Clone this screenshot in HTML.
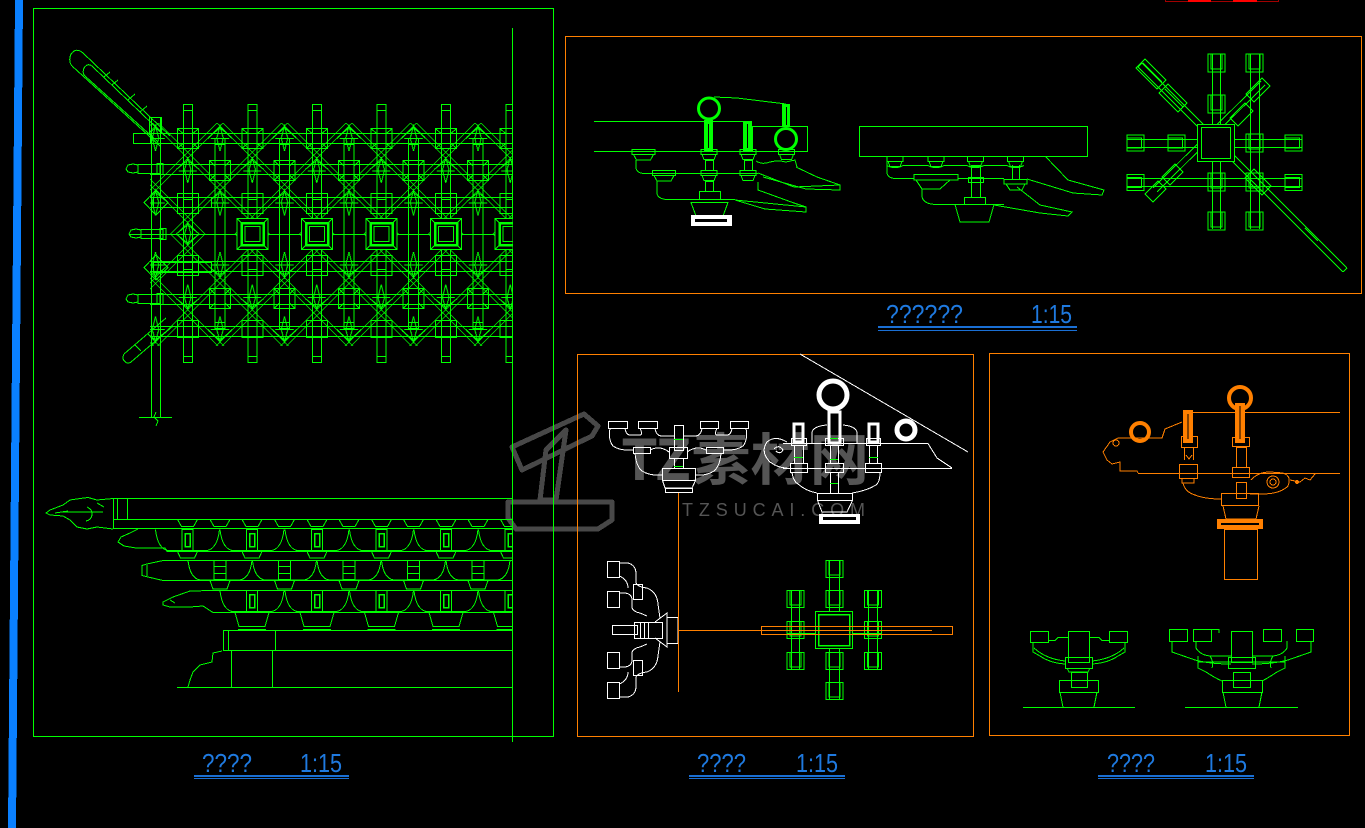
<!DOCTYPE html>
<html><head><meta charset="utf-8"><style>
html,body{margin:0;padding:0;background:#000;overflow:hidden}
svg{display:block}
</style></head><body>
<svg width="1365" height="828" viewBox="0 0 1365 828" xmlns="http://www.w3.org/2000/svg" shape-rendering="crispEdges">
<rect width="1365" height="828" fill="#000"/>
<defs>
 <pattern id="latA" patternUnits="userSpaceOnUse" width="64.5" height="64.5" x="316.75" y="123">
  <g stroke="#00ff00" stroke-width="1" fill="none">
   <path d="M0 29.25 L29.25 0 M0 35.25 L35.25 0 M29.25 64.5 L64.5 29.25 M35.25 64.5 L64.5 35.25 M35.25 0 L64.5 29.25 M29.25 0 L64.5 35.25 M0 29.25 L35.25 64.5 M0 35.25 L29.25 64.5"/>
   <path d="M32.25 3 L35.5 15 L32.25 28 L29 15 Z M0 35 L3.25 47 L0 60 L-3.25 47 Z M64.5 35 L67.75 47 L64.5 60 L61.25 47 Z"/>
   <path d="M21 14 L32.25 5 L43.5 14 M23 15.5 H41.5 M-11.25 46.25 L0 37.25 L11.25 46.25 M53.25 46.25 L64.5 37.25 L75.75 46.25 M-9 47.75 H9 M55.5 47.75 H73.5"/>
  </g>
 </pattern>
 <pattern id="latB" patternUnits="userSpaceOnUse" width="64.5" height="64.5" x="316.75" y="216">
  <g stroke="#00ff00" stroke-width="1" fill="none">
   <path d="M0 29.25 L29.25 0 M0 35.25 L35.25 0 M29.25 64.5 L64.5 29.25 M35.25 64.5 L64.5 35.25 M35.25 0 L64.5 29.25 M29.25 0 L64.5 35.25 M0 29.25 L35.25 64.5 M0 35.25 L29.25 64.5"/>
   <path d="M32.25 36 L35.5 49 L32.25 61 L29 49 Z M0 4 L3.25 17 L0 29 L-3.25 17 Z M64.5 4 L67.75 17 L64.5 29 L61.25 17 Z"/>
   <path d="M21 50.5 L32.25 59.5 L43.5 50.5 M23 49 H41.5 M-11.25 18.25 L0 27.25 L11.25 18.25 M53.25 18.25 L64.5 27.25 L75.75 18.25 M-9 16.75 H9 M55.5 16.75 H73.5"/>
  </g>
 </pattern>
 <clipPath id="clipL"><rect x="0" y="0" width="512.5" height="828"/></clipPath>

 <g id="mc" stroke="#00ff00" fill="none">
  <rect x="-4.5" y="104.5" width="9" height="258"/>
  <path d="M-4.5 110.5 H4.5 M-4.5 356.5 H4.5"/>
  <rect x="-10.5" y="128.5" width="21" height="20"/>
  <path d="M-10.5 128.5 L-4.5 134 M10.5 128.5 L4.5 134 M-10.5 148.5 L-4.5 143 M10.5 148.5 L4.5 143"/>
  <rect x="-10.5" y="193.5" width="21" height="20"/>
  <path d="M-4.5 199.5 H4.5 M-4.5 207.5 H4.5"/>
  <rect x="-10.5" y="255.5" width="21" height="20"/>
  <path d="M-4.5 261.5 H4.5 M-4.5 269.5 H4.5"/>
  <rect x="-10.5" y="320.5" width="21" height="17"/>
 </g>
 <g id="sq" stroke="#00ff00" fill="none">
  <rect x="-15.5" y="218.5" width="31" height="31" fill="#000"/>
  <rect x="-11" y="223" width="22" height="22" stroke-width="2.5"/>
  <rect x="-7.5" y="226.5" width="15" height="15"/>
  <path d="M-15.5 218.5 L-11 223 M15.5 218.5 L11 223 M-15.5 249.5 L-11 245 M15.5 249.5 L11 245"/>
 </g>
 <g id="ic" stroke="#00ff00" fill="none">
  <rect x="-5" y="138.5" width="10" height="190"/>
  <path d="M-5 144.5 H5 M-5 322.5 H5"/>
  <rect x="-10.5" y="160.5" width="21" height="20"/>
  <path d="M-10.5 160.5 L-5 166 M10.5 160.5 L5 166 M-10.5 180.5 L-5 175 M10.5 180.5 L5 175"/>
  <rect x="-10.5" y="288.5" width="21" height="20"/>
  <path d="M-10.5 288.5 L-5 294 M10.5 288.5 L5 294 M-10.5 308.5 L-5 303 M10.5 308.5 L5 303"/>
  <path d="M-12 138.5 L0 127 L12 138.5 M-12 329.5 L0 341 L12 329.5"/>
 </g>

 <g id="cupT" stroke="#00ff00" fill="none"><path d="M-10 519.5 H10 L6 526.5 H-6 Z"/></g>
 <g id="eA" stroke="#00ff00" fill="none">
  <rect x="-5.5" y="529.5" width="11" height="21"/>
  <rect x="-2.5" y="533.5" width="5" height="13" stroke-width="1.5"/>
  <path d="M-32 529.5 Q-30 548 -20 550.5 H-5.5 M5.5 550.5 H20 Q30 548 32 529.5"/>
  <path d="M-10 551.5 H10 L7 558 H-7 Z"/>
 </g>
 <g id="eB" stroke="#00ff00" fill="none">
  <rect x="-6" y="560.5" width="12" height="19"/>
  <path d="M-6 566.5 H6 M-6 573.5 H6"/>
  <path d="M-32 560.5 Q-30 578 -20 580 H-6 M6 580 H20 Q30 578 32 560.5"/>
  <path d="M-10 580.5 H10 L7 589 H-7 Z"/>
 </g>
 <g id="eC" stroke="#00ff00" fill="none">
  <rect x="-5.5" y="590.5" width="11" height="21"/>
  <rect x="-2.5" y="594.5" width="5" height="13" stroke-width="1.5"/>
  <path d="M-32 590.5 Q-30 609 -20 611.5 H-5.5 M5.5 611.5 H20 Q30 609 32 590.5"/>
  <path d="M-17 612.5 H17 L13 626.5 H-13 Z M-14 629.5 H14"/>
 </g>

 <g id="cupS" stroke="#00ff00" fill="none"><path d="M-8 0.5 H8 V5.5 H-8 Z M-7 5.5 L-5 10.5 H5 L7 5.5"/></g>
 <g id="cupL" stroke="#00ff00" fill="none"><path d="M-11.5 0.5 H11.5 V5.5 H-11.5 Z M-10 5.5 L-7 11 H7 L10 5.5"/></g>
 <g id="capV" stroke="#00ff00" fill="none"><rect x="-8.5" y="-9" width="17" height="18"/><path d="M-5.5 -9 V6 H5.5 V-9"/></g>
 <g id="capH" stroke="#00ff00" fill="none"><rect x="-8.5" y="-8" width="17" height="16"/><path d="M-8.5 -5 H6 V5 H-8.5"/></g>
 <g id="gcap" stroke="#00ff00" fill="none"><rect x="-8.5" y="-8.5" width="17" height="17"/><path d="M-5.5 -8.5 V6 H5.5 V-8.5"/></g>
</defs>

<!-- blue bar -->
<polygon points="15,0 23,0 16,828 8,828" fill="#0a80ff"/>
<!-- red marks top -->
<rect x="1165.5" y="-1" width="113" height="2.5" fill="none" stroke="#a00000"/>
<rect x="1188" y="0" width="23" height="2" fill="#ff0000"/>
<rect x="1233" y="0" width="24" height="2" fill="#ff0000"/>

<!-- watermark -->
<g fill="none" stroke="#555" stroke-width="5" stroke-linejoin="round" opacity="0.85">
 <path d="M512 447 L584 414 L598 426 L592 436 L522 470 Z"/>
 <path d="M546 450 L566 430 L556 500 L540 500 Z"/>
 <path d="M508 502 H612 V520 L598 529 H516 L508 518 Z"/>
</g>
<text x="621" y="480" font-family="'Noto Sans CJK SC','WenQuanYi Zen Hei',sans-serif" font-weight="bold" font-size="56" fill="#555" textLength="248" lengthAdjust="spacingAndGlyphs">TZ素材网</text>
<text x="682" y="516" font-family="'Liberation Sans',sans-serif" font-size="18" fill="#555" textLength="183" lengthAdjust="spacing">TZSUCAI.COM</text>

<!-- LEFT PANEL frame -->
<rect x="33.5" y="8.5" width="520" height="728" fill="none" stroke="#00ff00"/>
<path d="M512.5 28 V742" stroke="#00ff00"/>

<!-- lattice -->
<g clip-path="url(#clipL)">
 <rect x="150" y="123" width="363" height="111" fill="url(#latA)"/>
 <rect x="150" y="234" width="363" height="112" fill="url(#latB)"/>
 <g stroke="#00ff00" fill="none">
  <path d="M133 133.5 H512 M133 143.5 H512 M150 326.5 H512 M150 336.5 H512 M130 234.5 H512 M150 164.5 H512 M150 174.5 H512 M150 197.5 H512 M150 207.5 H512 M150 261.5 H512 M150 271.5 H512 M150 294.5 H512 M150 304.5 H512"/>
 </g>
 <use href="#mc" x="188"/><use href="#mc" x="252.5"/><use href="#mc" x="317"/><use href="#mc" x="381.5"/><use href="#mc" x="446"/><use href="#mc" x="510.5"/>
 <use href="#ic" x="220"/><use href="#ic" x="284.5"/><use href="#ic" x="349"/><use href="#ic" x="413.5"/><use href="#ic" x="478"/>
 <use href="#sq" x="252.5"/><use href="#sq" x="317"/><use href="#sq" x="381.5"/><use href="#sq" x="446"/><use href="#sq" x="510.5"/>
</g>

<!-- left ornaments of plan -->
<g stroke="#00ff00" fill="none">
 <path d="M83 53 L170 136 M72 66 L160 146 M83 53 Q76 47 71 54 Q68 61 72 66"/>
 <path d="M93 67 L165 136 M85 76 L158 142 M93 67 Q88 62 84 68 Q82 73 85 76"/>
 <path d="M104 77 L110 72 M112 85 L118 80 M128 100 L135 94 M140 112 L147 106"/>
 <rect x="149.5" y="117.5" width="12" height="16"/>
 <rect x="133.5" y="133.5" width="17" height="10"/>
 <path d="M151.5 117 V417 M160.5 117 V417 M139 417.5 H172 M156 412 L154 417 L158 421 L156 426"/>
 <path d="M138 164.5 H160 V173.5 H138 Z M157 163.5 H163 V174.5 H157 Z M138 165 L133 164 L128 165 L126 169 L128 172 L133 173 L138 172"/>
 <path d="M141 229.5 H163 V238.5 H141 Z M160 228.5 H166 V239.5 H160 Z M141 230 L136 229 L131 230 L129 234 L131 237 L136 238 L141 237"/>
 <path d="M138 294.5 H160 V303.5 H138 Z M157 293.5 H163 V304.5 H157 Z M138 295 L133 294 L128 295 L126 299 L128 302 L133 303 L138 302"/>
 <rect x="153.5" y="197.5" width="58" height="10"/>
 <path d="M144 202.5 L156 190 L168 202.5 L156 215 Z"/>
 <rect x="153.5" y="262.5" width="58" height="10"/>
 <path d="M144 267.5 L156 255 L168 267.5 L156 280 Z"/>
 <path d="M124 354 L166 318 M131 362 L173 326 M124 354 Q121 360 127 363 Q130 363 131 362 M135 345 L141 351 M148 334 L154 340"/>
</g>

<!-- ELEVATION bottom-left -->
<g clip-path="url(#clipL)">
 <g stroke="#00ff00" fill="none">
  <rect x="113.5" y="498.5" width="399" height="30"/>
  <path d="M113.5 519.5 H512 M117.5 498.5 V519.5 M127.5 498.5 V519.5"/>
  <path d="M113 498.5 L97 500 L88 497.5 L80 498.5 L70 500 L63 505 L50 510 L46 513 L50 515 L63 516 L70 520 L77 527 L87 529 L97 527 L113 529"/>
  <path d="M63 512 H103 M87 507 Q93 510 92 515 Q91 520 86 521 M97 503 L104 507 M55 513 L68 511"/>
  <path d="M138 529 L130 533 L121 537 L118 542 L124 546 L136 548 L165 548 L167 551.5 H512"/>
  <path d="M163 560.5 H512 M163 560.5 L147 564 L142 565.5 V575.5 L148 577 L163 580.5 H512 M147 565 V576"/>
  <path d="M213 590.5 H512 M213 590.5 L190 591 L173 597 L163 602 L163 605 L170 607 L190 607 L203 606 L213 612.5 H512 M170 600 L175 603"/>
  <rect x="223.5" y="630.5" width="289" height="20"/>
  <path d="M228.5 630.5 V650.5 M275.5 630.5 V650.5 M231.5 650.5 V687 M272.5 650.5 V687 M177 687.5 H512"/>
  <path d="M222 651 L213 653 L212 662 L200 665 L193 672 L190 680 L188 687"/>
 </g>
 <use href="#cupT" x="187.5"/><use href="#cupT" x="220"/><use href="#cupT" x="252"/><use href="#cupT" x="284.5"/><use href="#cupT" x="317"/><use href="#cupT" x="349"/><use href="#cupT" x="381.5"/><use href="#cupT" x="413.5"/><use href="#cupT" x="446"/><use href="#cupT" x="478"/><use href="#cupT" x="510.5"/>
 <use href="#eA" x="187.5"/><use href="#eA" x="252"/><use href="#eA" x="317"/><use href="#eA" x="381.5"/><use href="#eA" x="446"/><use href="#eA" x="510.5"/>
 <use href="#eB" x="220"/><use href="#eB" x="284.5"/><use href="#eB" x="349"/><use href="#eB" x="413.5"/><use href="#eB" x="478"/>
 <use href="#eC" x="252"/><use href="#eC" x="317"/><use href="#eC" x="381.5"/><use href="#eC" x="446"/><use href="#eC" x="510.5"/>
</g>

<!-- TOP RIGHT PANEL -->
<rect x="565.5" y="36.5" width="796" height="257" fill="none" stroke="#ff8000"/>
<!-- left drawing -->
<g stroke="#00ff00" fill="none">
 <path d="M594 121.5 H752 M594 151.5 H807"/>
 <rect x="752.5" y="126.5" width="55" height="25"/>
 <path d="M714 97 L737 98 L786 104"/>
 <circle cx="709" cy="108.5" r="10.5" stroke-width="3" shape-rendering="auto"/>
 <circle cx="786" cy="139" r="10.5" stroke-width="3" shape-rendering="auto"/>
 <path d="M636 160 V168 Q637 173.5 645 173.5 H758"/>
 <path d="M657 181 V194 Q659 199.5 668 199.5 H735"/>
 <path d="M756 161 Q762 165 770 162 Q778 160 786 162 L795 160 L797 167"/>
 <rect x="705.5" y="160.5" width="8" height="10"/><rect x="744.5" y="160.5" width="8" height="10"/><rect x="705.5" y="181.5" width="8" height="10"/>
 <rect x="699.5" y="191.5" width="21" height="8"/>
 <path d="M691 202.5 H728 L723 216 H696 Z"/>
 <path d="M758 173 L794 187 L840 185 L840 190 L806 189 L763 177 M796 167 L817 177 L840 185"/>
 <path d="M735 200 L806 207 L806 212 L765 209 Z M758 182 L758 190 L794 203 L806 207"/>
</g>
<g fill="#00ff00"><rect x="704" y="120" width="9" height="31"/><rect x="743" y="121" width="9" height="30"/><rect x="782" y="104" width="8" height="23"/></g>
<path d="M708.5 124 V148 M747.5 124 V148 M786.5 107 V125" stroke="#000"/>
<use href="#cupL" x="643.5" y="149"/><use href="#cupS" x="709" y="149"/><use href="#cupS" x="748" y="149"/><use href="#cupS" x="786.5" y="149"/>
<use href="#cupL" x="664" y="170"/><use href="#cupS" x="709" y="170"/><use href="#cupS" x="748" y="170"/>
<rect x="691" y="215" width="41" height="11" fill="#fff"/>
<rect x="695" y="219" width="32" height="3" fill="#000"/>
<!-- middle drawing -->
<g stroke="#00ff00" fill="none">
 <rect x="859.5" y="126.5" width="228" height="30"/>
 <path d="M887 165.5 Q895 170 903 165.5 H928 Q936 170 944 165.5 H967 Q975 170 984 165.5 H1007 Q1015 170 1024 165.5"/>
 <path d="M887 161 V173 Q888 178.5 896 178.5 H914 M958 178.5 H1004"/>
 <path d="M914 174.5 H958 V180 H914 Z M916 180 L922 189 H940 L950 180"/>
 <path d="M922 189 V197 Q924 204.5 937 204.5 H1004"/>
 <rect x="971.5" y="165.5" width="9" height="32"/>
 <rect x="968.5" y="177.5" width="15" height="5"/>
 <path d="M1004 179.5 H1027 V184 H1004 Z M1006 184 L1010 190 H1022 L1025 184"/>
 <rect x="964.5" y="197.5" width="21" height="7"/>
 <path d="M955 204.5 H994 L989 222 H960 Z"/>
 <path d="M1045 156 L1068 180 L1104 190 L1102 195 L1073 193 L1027 179"/>
 <path d="M1017 187 L1040 205 L1072 212 L1068 216 L1040 213 L994 205"/>
 <path d="M1012.5 165 V179 M1019.5 165 V179"/>
</g>
<use href="#cupS" x="895" y="156"/><use href="#cupS" x="936" y="156"/><use href="#cupS" x="975.5" y="156"/><use href="#cupS" x="1015.5" y="156"/>
<!-- right plan drawing -->
<g stroke="#00ff00" fill="none">
 <path d="M1142 63 L1347 268 M1138 67 L1343 272 M1347 268 L1343 272 M1142 63 L1138 67"/>
 <path d="M1145 59 L1166 80 L1157 89 L1136 68 Z M1143 63 L1162 82"/>
 <path d="M1168 84 L1187 103 L1178 112 L1159 93 Z M1165 89 L1183 107"/>
 <path d="M1254 169 L1271 186 L1262 195 L1245 178 Z"/>
 <path d="M1305 228 L1318 241"/>
 <path d="M1265 85 L1157 192 M1261 81 L1153 188"/>
 <path d="M1262 78 L1270 86 L1254 102 L1246 94 Z M1245 103 L1253 111 L1238 126 L1230 118 Z"/>
 <path d="M1158 181 L1166 189 L1153 202 L1145 194 Z M1175 164 L1183 172 L1170 185 L1162 177 Z"/>
 <path d="M1212.5 54 V229 M1220.5 54 V229 M1250.5 54 V229 M1259.5 54 V229"/>
 <path d="M1127 139.5 H1302 M1127 147.5 H1302 M1127 178.5 H1302 M1127 186.5 H1302"/>
</g>
<use href="#capV" x="1216.5" y="63"/><use href="#capV" x="1216.5" y="104"/><use href="#capV" x="1216.5" y="182"/><use href="#capV" x="1216.5" y="221"/>
<use href="#capV" x="1254.5" y="63"/><use href="#capV" x="1254.5" y="143"/><use href="#capV" x="1254.5" y="182"/><use href="#capV" x="1254.5" y="221"/>
<use href="#capH" x="1135.5" y="143"/><use href="#capH" x="1176.5" y="143"/><use href="#capH" x="1293.5" y="143"/>
<use href="#capH" x="1135.5" y="182.5"/><use href="#capH" x="1293.5" y="182.5"/>
<rect x="1197.5" y="124.5" width="37" height="37" fill="#000" stroke="#00ff00"/>
<rect x="1201.5" y="127.5" width="29" height="31" fill="none" stroke="#00ff00"/>

<!-- BOTTOM MIDDLE PANEL -->
<rect x="577.5" y="354.5" width="396" height="382" fill="none" stroke="#ff8000"/>
<g stroke="#fff" fill="none">
 <path d="M800 354 L968 452"/>
 <rect x="608.5" y="421.5" width="19" height="7"/><rect x="638.5" y="421.5" width="19" height="7"/>
 <rect x="700.5" y="421.5" width="18" height="7"/><rect x="730.5" y="421.5" width="18" height="7"/>
 <path d="M610 428 Q608 440 613 446 Q620 451 633 450 M625 428 Q626 435 630 435 H640 Q643 435 640 428 M655 428 Q656 436 662 436 H674"/>
 <path d="M746 428 Q748 440 743 446 Q736 451 723 450 M732 428 Q731 435 727 435 H717 Q714 435 717 428 M702 428 Q701 436 695 436 H683"/>
 <rect x="674.5" y="425.5" width="9" height="25"/>
 <rect x="633.5" y="447.5" width="17" height="6"/><rect x="706.5" y="447.5" width="17" height="6"/>
 <rect x="669.5" y="447.5" width="18" height="11"/>
 <path d="M650 450 Q660 445 669 452 M706 450 Q697 445 687 452"/>
 <path d="M635 453 Q636 466 642 471 Q650 476 662 475 M721 453 Q720 466 714 471 Q706 476 696 475"/>
 <rect x="674.5" y="458.5" width="9" height="10"/>
 <rect x="662.5" y="468.5" width="33" height="12"/>
 <path d="M662.5 480.5 L665 488 H692 L695.5 480.5"/>
 <rect x="665.5" y="488.5" width="27" height="4"/>
 <circle cx="833" cy="395" r="14" stroke-width="5" shape-rendering="auto"/>
 <circle cx="906" cy="430" r="9" stroke-width="5" shape-rendering="auto"/>
 <rect x="829" y="412" width="11" height="31" stroke-width="3"/>
 <rect x="794" y="424" width="9" height="18" stroke-width="3"/>
 <rect x="869" y="424" width="9" height="18" stroke-width="3"/>
 <path d="M783 443.5 H928 L937 458 L952 468 M783 468.5 H952"/>
 <path d="M812 443 V432 Q814 426 827 425 M843 425 Q855 426 857 432 V443"/>
 <path d="M787 442 Q775 435 767 442 Q760 452 770 462 Q778 468 787 468 M774 449 Q779 444 783 450 Q780 455 776 451"/>
 <rect x="791.5" y="438.5" width="15" height="7"/><rect x="825.5" y="438.5" width="18" height="7"/><rect x="866.5" y="438.5" width="14" height="7"/>
 <path d="M794.5 445 V463 M803.5 445 V463 M830.5 445 V463 M838.5 445 V463 M869.5 445 V463 M877.5 445 V463"/>
 <rect x="790.5" y="463.5" width="17" height="9"/><rect x="825.5" y="463.5" width="18" height="9"/><rect x="865.5" y="463.5" width="16" height="9"/>
 <path d="M792 472 Q793 481 798 484 Q806 491 817 493 M880 472 Q880 482 876 485 Q866 491 852 493"/>
 <path d="M830.5 472 V493 M838.5 472 V493"/>
 <rect x="817.5" y="493.5" width="35" height="7"/>
 <path d="M817.5 500.5 L822 512 H847 L852.5 500.5"/>
 <rect x="607.5" y="561.5" width="12" height="16"/><rect x="607.5" y="591.5" width="12" height="16"/>
 <rect x="607.5" y="652.5" width="12" height="16"/><rect x="607.5" y="682.5" width="12" height="16"/>
 <path d="M619.5 563 H628 Q636 565 636 574 V583 Q638 587 647 588 Q657 592 658 604 L660 618"/>
 <path d="M619.5 697 H628 Q636 695 636 686 V677 Q638 673 647 672 Q657 668 658 656 L660 642"/>
 <path d="M619.5 593 H625 Q632 594 632 600 V608 Q634 612 640 613 L647 616 M619.5 667 H625 Q632 666 632 660 V652 Q634 648 640 647 L647 644"/>
 <path d="M619.5 576 Q628 580 628 588 M619.5 684 Q628 680 628 672"/>
 <rect x="633.5" y="584.5" width="9" height="15"/><rect x="633.5" y="660.5" width="9" height="15"/>
 <rect x="612.5" y="625.5" width="25" height="9"/>
 <rect x="634.5" y="622.5" width="28" height="16"/>
 <path d="M640.5 622.5 V638.5 M644.5 622.5 V638.5 M648.5 622.5 V638.5"/>
 <path d="M655 622 L667 613 V647 L655 638 M667.5 617.5 H678 V643.5 H667.5"/>
</g>
<g fill="#fff"><rect x="819" y="514" width="41" height="10"/></g>
<rect x="823" y="517" width="33" height="3" fill="#000"/>
<path d="M674 439.5 H683 M674 466.5 H683 M830 438.5 H838 M830 459.5 H838 M794 457.5 H803 M869 457.5 H878 M830 483.5 H838" stroke="#00ff00"/>
<g stroke="#00ff00" fill="none">
 <path d="M829.5 560 V699 M839.5 560 V699 M791.5 590 V669 M799.5 590 V669 M868.5 590 V669 M877.5 590 V669"/>
 <path d="M787 626.5 H882 M787 633.5 H882"/>
</g>
<use href="#gcap" x="834.5" y="569"/><use href="#gcap" x="834.5" y="599"/><use href="#gcap" x="834.5" y="661"/><use href="#gcap" x="834.5" y="691"/>
<use href="#gcap" x="795.5" y="599"/><use href="#gcap" x="795.5" y="630"/><use href="#gcap" x="795.5" y="661"/>
<use href="#gcap" x="873" y="599"/><use href="#gcap" x="873" y="630"/><use href="#gcap" x="873" y="661"/>
<rect x="815.5" y="611.5" width="37" height="37" fill="#000" stroke="#00ff00"/>
<rect x="818.5" y="614.5" width="31" height="31" fill="none" stroke="#00ff00" stroke-width="1.5"/>
<g stroke="#ff8000" fill="none">
 <rect x="761.5" y="626.5" width="191" height="8"/>
 <path d="M678 630.5 H932 M678.5 493 V692"/>
</g>

<!-- BOTTOM RIGHT PANEL -->
<rect x="989.5" y="353.5" width="360" height="382" fill="none" stroke="#ff8000"/>
<g stroke="#ff8000" fill="none">
 <path d="M1192 412.5 H1340 M1138 473.5 H1340"/>
 <circle cx="1240" cy="398" r="11" stroke-width="4" shape-rendering="auto"/>
 <circle cx="1140" cy="432" r="9" stroke-width="4" shape-rendering="auto"/>
 <path d="M1182 422 L1165 429 L1162 438 H1118 L1110 442 L1103 452 L1107 460 L1112 464 L1120 462 V471 H1137 L1138 473"/>
 <circle cx="1116" cy="443" r="3"/>
 <rect x="1181.5" y="436.5" width="16" height="11"/>
 <rect x="1232.5" y="437.5" width="17" height="9"/>
 <path d="M1184.5 447 V460 M1193.5 447 V460 M1186 455 L1189 459 L1192 455"/>
 <rect x="1179.5" y="464.5" width="18" height="14"/>
 <path d="M1182 478 V483 H1194 V478"/>
 <rect x="1236.5" y="447.5" width="10" height="20"/>
 <rect x="1232.5" y="467.5" width="17" height="10"/>
 <rect x="1236.5" y="482.5" width="10" height="16"/>
 <path d="M1183 483 Q1185 492 1195 495 Q1205 499 1221 499"/>
 <rect x="1221.5" y="493.5" width="37" height="12"/>
 <path d="M1223 506 L1226 519 H1256 L1259 506"/>
 <rect x="1224.5" y="529.5" width="33" height="50"/>
 <path d="M1251 480 Q1258 472 1270 472 L1283 473 Q1292 476 1288 486 Q1280 494 1262 494 L1250 494 M1290 480 L1300 482 L1305 478 L1310 480 L1315 474"/>
 <circle cx="1273" cy="482" r="6"/><circle cx="1273" cy="482" r="3"/>
</g>
<g fill="#ff8000">
 <rect x="1183" y="410" width="10" height="33"/>
 <rect x="1235" y="403" width="10" height="40"/>
 <rect x="1217" y="519" width="46" height="10"/>
 <circle cx="1297" cy="482" r="2"/>
</g>
<path d="M1188 414 V439 M1240 406 V439" stroke="#000"/>
<rect x="1221" y="523" width="38" height="2" fill="#000"/>
<g stroke="#00ff00" fill="none">
 <rect x="1030.5" y="631.5" width="18" height="11"/><rect x="1109.5" y="631.5" width="18" height="11"/>
 <rect x="1068.5" y="631.5" width="21" height="31"/>
 <path d="M1033 642.5 V652 L1040 656 Q1050 663 1065 664 M1125 642.5 V652 L1118 656 Q1108 663 1092 664"/>
 <path d="M1034 648 Q1046 659 1065 661 M1124 648 Q1112 659 1092 661"/>
 <path d="M1048 640.5 H1055 L1058 637.5 H1068 M1109 640.5 H1102 L1099 637.5 H1089"/>
 <rect x="1065.5" y="657.5" width="27" height="11"/>
 <path d="M1067 668 L1069 672 H1088 L1090 668"/>
 <rect x="1071.5" y="672.5" width="16" height="15"/>
 <rect x="1059.5" y="680.5" width="39" height="12"/>
 <path d="M1060 692 L1063 707 M1097 692 L1094 707 M1023 707.5 H1135"/>
 <rect x="1169.5" y="629.5" width="18" height="12"/><rect x="1193.5" y="629.5" width="18" height="12"/>
 <rect x="1263.5" y="629.5" width="18" height="12"/><rect x="1296.5" y="629.5" width="17" height="12"/>
 <path d="M1202 629.5 H1219 V633 M1265 629.5 H1282"/>
 <rect x="1231.5" y="631.5" width="21" height="31"/>
 <path d="M1172 641 V652 L1195 660 Q1210 664 1231 664 M1311 641 V652 L1288 660 Q1273 664 1252 664"/>
 <path d="M1196 641 V648 Q1200 655 1210 656 H1231 M1287 641 V648 Q1283 655 1273 656 H1252"/>
 <path d="M1198 656 V668 L1206 672 Q1215 678 1222 681 M1285 656 V668 L1277 672 Q1268 678 1262 681"/>
 <path d="M1198 662 H1285 M1210 656 Q1214 662 1212 668 M1273 656 Q1269 662 1271 668"/>
 <rect x="1228.5" y="657.5" width="27" height="11"/>
 <rect x="1233.5" y="672.5" width="17" height="15"/>
 <path d="M1233 680.5 H1250"/>
 <rect x="1222.5" y="680.5" width="40" height="12"/>
 <path d="M1223 692 L1226 707 M1262 692 L1259 707 M1185 707.5 H1298"/>
</g>

<!-- LABELS -->
<g font-family="'Liberation Sans',sans-serif" font-size="26" fill="#1f7ae0">
 <text x="886" y="323" textLength="77" lengthAdjust="spacingAndGlyphs">??????</text>
 <text x="1031" y="323" textLength="41" lengthAdjust="spacingAndGlyphs">1:15</text>
 <text x="202" y="772" textLength="50" lengthAdjust="spacingAndGlyphs">????</text>
 <text x="300" y="772" textLength="42" lengthAdjust="spacingAndGlyphs">1:15</text>
 <text x="697" y="772" textLength="49" lengthAdjust="spacingAndGlyphs">????</text>
 <text x="796" y="772" textLength="42" lengthAdjust="spacingAndGlyphs">1:15</text>
 <text x="1107" y="772" textLength="48" lengthAdjust="spacingAndGlyphs">????</text>
 <text x="1205" y="772" textLength="42" lengthAdjust="spacingAndGlyphs">1:15</text>
</g>
<g fill="#1a6fd4">
 <rect x="878" y="326" width="199" height="2"/><rect x="878" y="330" width="199" height="1"/>
 <rect x="194" y="775" width="155" height="2"/><rect x="194" y="778" width="155" height="1"/>
 <rect x="689" y="775" width="156" height="2"/><rect x="689" y="778" width="156" height="1"/>
 <rect x="1098" y="775" width="156" height="2"/><rect x="1098" y="778" width="156" height="1"/>
</g>
</svg>
</body></html>
